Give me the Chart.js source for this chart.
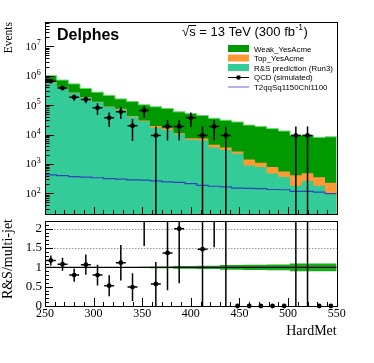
<!DOCTYPE html>
<html><head><meta charset="utf-8">
<script src="https://cdn.jsdelivr.net/npm/chart.js@4/dist/chart.umd.min.js"></script>
<style>
html,body{margin:0;padding:0;background:#fff;}
#wrap{position:relative;width:374px;height:363px;overflow:hidden;background:#fff;}
canvas{position:absolute;left:0;}
#topc{top:0;}
#botc{top:217px;}
</style></head><body>
<div id="wrap"><canvas id="topc" width="374" height="218"></canvas><canvas id="botc" width="374" height="146"></canvas></div>
<script>
// ---- data ----
const binLow = [250,262,274,286,298,310,322,334,346,358,370,382,394,406,418,430,442,454,466,478,490,502,514,526,538];
const binHigh = 550;
const rsPred = [5.9e5,4.1e5,2.6e5,1.8e5,1.26e5,8.7e4,7.1e4,4.0e4,2.8e4,1.7e4,1.45e4,1.02e4,6.6e3,6.3e3,3.6e3,3.0e3,2.2e3,890,790,470,360,180,260,180,100];
const topYesAcme = [1.5e4,1.0e4,7e3,5e3,4e3,3e3,3.5e3,2.5e3,2e3,2.5e3,1.7e3,800,900,1000,900,630,430,510,310,310,190,230,220,170,130];
const weakYesAcme = [3.95e5,2.9e5,2.6e5,1.85e5,1.45e5,1.24e5,8.8e4,8.9e4,7.2e4,6.8e4,6.0e4,4.8e4,4.4e4,3.7e4,3.1e4,2.7e4,2.4e4,1.95e4,1.75e4,1.5e4,1.26e4,9.1e3,9.0e3,7.6e3,8.1e3];
const signalT2qq = [427,398,372,355,339,316,302,288,282,263,245,234,214,186,174,166,151,148,145,135,132,117,117,110,98];
const qcdSim = [6.5e5,3.8e5,1.86e5,1.55e5,8.1e4,3.7e4,5.9e4,2.0e4,6.6e4,9.3e3,1.87e4,1.87e4,3.7e4,9.3e3,1.87e4,9.3e3,0,0,0,0,0,9.3e3,9.3e3,0,0];
const qcdErr = [6e4,6e4,4.5e4,4e4,3.5e4,1.9e4,2.5e4,1.4e4,2.9e4,9.3e3,1.25e4,1.25e4,1.9e4,9.3e3,1.25e4,9.3e3,0,0,0,0,0,9.3e3,9.3e3,0,0];
const ratioVal = [1.18,1.08,0.80,1.07,0.80,0.525,1.12,0.49,2.3,0.57,1.375,2.0,5.6,1.47,3.0,2.6,0,0,0,0,0,3.0,2.8,0,0];
const ratioErr = [0.13,0.17,0.17,0.26,0.27,0.27,0.46,0.36,0.75,0.57,0.97,1.41,3.0,1.47,1.48,2.6,0,0,0,0,0,3.0,2.8,0,0];
const ratioBand = [0.004,0.004,0.004,0.004,0.004,0.004,0.004,0.004,0.015,0.02,0.02,0.035,0.035,0.04,0.04,0.06,0.06,0.065,0.065,0.075,0.075,0.1,0.1,0.1,0.1];
const xTickVals = [250,300,350,400,450,500,550];
const logTickExps = [2,3,4,5,6,7];
const ratioTickVals = [0,0.5,1,1.5,2];
const legendLabels = ['Weak_YesAcme','Top_YesAcme','R&S prediction (Run3)','QCD (simulated)','T2qqSq1150Chi1100'];

// ---- helpers ----
const SERIF = 'Liberation Serif';
const SANS = 'Liberation Sans';
function hist(vals){
  const pts = binLow.map((x,i)=>({x:x, y:vals[i]}));
  pts.push({x:binHigh, y:vals[vals.length-1]});
  return pts;
}
function binCenter(i){ const hi = i+1<binLow.length ? binLow[i+1] : binHigh; return (binLow[i]+hi)/2; }
function binHalf(i){ const hi = i+1<binLow.length ? binLow[i+1] : binHigh; return (hi-binLow[i])/2; }
const cumTop = rsPred.map((v,i)=>v+topYesAcme[i]);
const cumWeak = cumTop.map((v,i)=>v+weakYesAcme[i]);

const COL = {weak:'#009900', weakEdge:'#66d966', top:'#ff9933', rs:'#33cc99', sig:'#3344bb'};

function drawXTicks(ctx, xs, area, majLen, minLen){
  ctx.save(); ctx.strokeStyle='#000'; ctx.lineWidth=1;
  for(let v=250; v<=550; v+=10){
    const px = Math.round(xs.getPixelForValue(v))+0.5;
    const len = (xTickVals.indexOf(v)>=0)?majLen:minLen;
    ctx.beginPath(); ctx.moveTo(px, area.bottom); ctx.lineTo(px, area.bottom-len); ctx.stroke();
  }
  ctx.restore();
}
function drawFrame(ctx, area){
  ctx.save(); ctx.strokeStyle='#000'; ctx.lineWidth=1;
  ctx.strokeRect(Math.round(area.left)+0.5, Math.round(area.top)+0.5, Math.round(area.right-area.left), Math.round(area.bottom-area.top));
  ctx.restore();
}
function errorBars(chart, vals, errs, clipBottomVal){
  const ctx = chart.ctx, xs = chart.scales.x, ys = chart.scales.y, a = chart.chartArea;
  ctx.save();
  ctx.beginPath(); ctx.rect(a.left, a.top, a.right-a.left, a.bottom-a.top); ctx.clip();
  ctx.strokeStyle='#000'; ctx.lineWidth=1.5;
  vals.forEach((v,i)=>{
    if(errs[i]<=0) return;
    const cx = xs.getPixelForValue(binCenter(i));
    const lo = v-errs[i];
    const yLo = lo>clipBottomVal ? ys.getPixelForValue(lo) : a.bottom+2;
    const yHi = ys.getPixelForValue(v+errs[i]);
    ctx.beginPath(); ctx.moveTo(cx, yLo); ctx.lineTo(cx, yHi); ctx.stroke();
    const yv = ys.getPixelForValue(v);
    const hw = binHalf(i)*0.85;
    ctx.beginPath(); ctx.moveTo(xs.getPixelForValue(binCenter(i)-hw), yv); ctx.lineTo(xs.getPixelForValue(binCenter(i)+hw), yv); ctx.stroke();
  });
  ctx.restore();
}

// ---- top chart ----
const topPlugin = {
  id:'topDeco',
  afterDatasetsDraw(chart){
    errorBars(chart, qcdSim, qcdErr, 0);
  },
  afterDraw(chart){
    const ctx = chart.ctx, a = chart.chartArea, xs = chart.scales.x, ys = chart.scales.y;
    drawFrame(ctx, a);
    drawXTicks(ctx, xs, a, 7, 4);
    ctx.save(); ctx.strokeStyle='#000'; ctx.lineWidth=1;
    for(let e=1; e<=7; e++){
      for(let k=1; k<=9; k++){
        const v = k*Math.pow(10,e);
        if(v<ys.min || v>ys.max) continue;
        const py = Math.round(ys.getPixelForValue(v))+0.5;
        const len = k===1?9:4.5;
        ctx.beginPath(); ctx.moveTo(a.left, py); ctx.lineTo(a.left+len, py); ctx.stroke();
      }
    }
    ctx.restore();
    ctx.save(); ctx.fillStyle='#000';
    logTickExps.forEach(e=>{
      const py = ys.getPixelForValue(Math.pow(10,e));
      ctx.font = '11px "'+SERIF+'"'; ctx.textAlign='right'; ctx.textBaseline='alphabetic';
      ctx.fillText('10', a.left-8.5, py+3.5);
      ctx.font = '8px "'+SERIF+'"'; ctx.textAlign='left';
      ctx.fillText(String(e), a.left-8.2, py-0.8);
    });
    ctx.restore();
    ctx.save(); ctx.fillStyle='#000'; ctx.strokeStyle='#000'; ctx.textBaseline='alphabetic';
    ctx.font = 'bold 16px "'+SANS+'"'; ctx.textAlign='left';
    ctx.fillText('Delphes', 57, 39.5);
    const big = '13px "'+SANS+'"';
    ctx.font = big;
    let x = 182;
    ctx.fillText('\u221A', x, 36); x += ctx.measureText('\u221A').width;
    const sx = x; ctx.fillText('s', x, 36); x += ctx.measureText('s').width;
    ctx.lineWidth=1; ctx.beginPath(); ctx.moveTo(sx-0.5, 25.5); ctx.lineTo(x+0.5, 25.5); ctx.stroke();
    const t1 = ' = 13 TeV (300 fb';
    ctx.fillText(t1, x, 36); x += ctx.measureText(t1).width;
    ctx.font = '8.5px "'+SANS+'"'; ctx.fillText('-1', x+0.5, 30); x += ctx.measureText('-1').width+1;
    ctx.font = big; ctx.fillText(')', x, 36);
    ctx.save(); ctx.font = '11.5px "'+SERIF+'"'; ctx.translate(11.7, a.top); ctx.rotate(-Math.PI/2);
    ctx.textAlign='right'; ctx.fillText('Events', 0, 0); ctx.restore();
    const rows = [48.5,58,67.5,77,86.5];
    const bx = 228, bw = 21;
    ctx.font = '7.9px "'+SANS+'"'; ctx.textAlign='left';
    const boxCols = [COL.weak, COL.top, COL.rs];
    rows.forEach((ry,i)=>{
      if(i<3){ ctx.fillStyle=boxCols[i]; ctx.fillRect(bx, ry-3.5, bw, 7); }
      else if(i===3){ ctx.strokeStyle='#000'; ctx.lineWidth=1; ctx.beginPath(); ctx.moveTo(bx, ry+0.5); ctx.lineTo(bx+bw, ry+0.5); ctx.stroke();
        ctx.fillStyle='#000'; ctx.beginPath(); ctx.arc(bx+bw/2, ry+0.5, 2.3, 0, Math.PI*2); ctx.fill(); }
      else { ctx.strokeStyle='#6666dd'; ctx.lineWidth=1; ctx.beginPath(); ctx.moveTo(bx, ry+0.5); ctx.lineTo(bx+bw, ry+0.5); ctx.stroke(); }
      ctx.fillStyle='#000'; ctx.fillText(legendLabels[i], 254, ry+3);
    });
    ctx.restore();
  }
};

new Chart(document.getElementById('topc'), {
  type:'line',
  data:{datasets:[
    {label:legendLabels[0], data:hist(cumWeak), stepped:'before', fill:'start', backgroundColor:COL.weak, borderColor:COL.weakEdge, borderWidth:1, pointRadius:0, order:5},
    {label:legendLabels[1], data:hist(cumTop), stepped:'before', fill:'start', backgroundColor:COL.top, borderColor:'rgba(0,0,0,0)', borderWidth:0.01, pointRadius:0, order:4},
    {label:legendLabels[2], data:hist(rsPred), stepped:'before', fill:'start', backgroundColor:COL.rs, borderColor:'rgba(0,0,0,0)', borderWidth:0.01, pointRadius:0, order:3},
    {label:legendLabels[4], data:hist(signalT2qq), stepped:'before', fill:false, borderColor:COL.sig, borderWidth:1.2, pointRadius:0, order:2},
    {label:legendLabels[3], data:qcdSim.map((v,i)=>({x:binCenter(i), y: v>0?v:null})), showLine:false, pointRadius:2.4, pointBackgroundColor:'#000', pointBorderColor:'#000', pointBorderWidth:0, order:1}
  ]},
  options:{
    animation:false, responsive:false, devicePixelRatio:1,
    layout:{padding:{left:0,right:37.3,top:22,bottom:1}},
    plugins:{legend:{display:false}, tooltip:{enabled:false}},
    scales:{
      x:{type:'linear', min:250, max:550, display:false},
      y:{type:'logarithmic', min:19.8, max:6.7e7, ticks:{display:false}, grid:{display:false, drawTicks:false}, border:{display:false},
         afterFit(s){ s.width=45; s.paddingTop=0; s.paddingBottom=0; }}
    }
  },
  plugins:[topPlugin]
});

// ---- ratio chart ----
const botPlugin = {
  id:'botDeco',
  beforeDatasetsDraw(chart){
    const ctx = chart.ctx, a = chart.chartArea, ys = chart.scales.y;
    ctx.save(); ctx.strokeStyle='#999'; ctx.lineWidth=1; ctx.setLineDash([1.5,1.5]);
    [1.5,2].forEach(v=>{ const py = Math.round(ys.getPixelForValue(v))+0.5; ctx.beginPath(); ctx.moveTo(a.left, py); ctx.lineTo(a.right, py); ctx.stroke(); });
    ctx.restore();
  },
  afterDatasetsDraw(chart){
    errorBars(chart, ratioVal, ratioErr, 0);
  },
  afterDraw(chart){
    const ctx = chart.ctx, a = chart.chartArea, xs = chart.scales.x, ys = chart.scales.y;
    drawFrame(ctx, a);
    drawXTicks(ctx, xs, a, 8, 4);
    ctx.save(); ctx.strokeStyle='#000'; ctx.lineWidth=1;
    for(let k=0;k<=22;k++){
      const v = k/10; const py = Math.round(ys.getPixelForValue(v))+0.5;
      const len = (k%5===0)?8:4;
      ctx.beginPath(); ctx.moveTo(a.left, py); ctx.lineTo(a.left+len, py); ctx.stroke();
    }
    ctx.restore();
    ctx.save(); ctx.fillStyle='#000';
    ctx.font = '14px "'+SERIF+'"'; ctx.textAlign='right'; ctx.textBaseline='alphabetic';
    ctx.fillText('HardMet', a.right, a.bottom+29);
    ctx.translate(11.7, a.top-2); ctx.rotate(-Math.PI/2);
    ctx.fillText('R&S/multi-jet', 0, 0);
    ctx.restore();
  }
};

new Chart(document.getElementById('botc'), {
  type:'line',
  data:{datasets:[
    {label:'band+', data:hist(ratioBand.map(b=>1+b)), stepped:'before', fill:'+1', backgroundColor:'rgba(0,160,0,0.9)', borderColor:'rgba(0,0,0,0)', borderWidth:0.01, pointRadius:0, order:4},
    {label:'band-', data:hist(ratioBand.map(b=>1-b)), stepped:'before', fill:false, borderColor:'rgba(0,0,0,0)', borderWidth:0.01, pointRadius:0, order:3},
    {label:'unity', data:[{x:250,y:1},{x:550,y:1}], fill:false, borderColor:'#000', borderWidth:1.3, pointRadius:0, order:2},
    {label:'ratio', data:ratioVal.map((v,i)=>({x:binCenter(i), y:v})), showLine:false, pointRadius:2.4, pointBackgroundColor:'#000', pointBorderColor:'#000', pointBorderWidth:0, clip:{left:0,top:0,right:0,bottom:4}, order:1}
  ]},
  options:{
    animation:false, responsive:false, devicePixelRatio:1,
    layout:{padding:{left:0,right:37.3,top:1,bottom:0}},
    plugins:{legend:{display:false}, tooltip:{enabled:false}},
    scales:{
      x:{type:'linear', min:250, max:550, position:'bottom',
         afterBuildTicks(s){ s.ticks = xTickVals.map(v=>({value:v})); },
         ticks:{autoSkip:false, maxRotation:0, color:'#000', padding:1, font:{family:SERIF, size:12}},
         grid:{display:false, drawTicks:false}, border:{display:false},
         afterFit(s){ s.height=57; s.paddingLeft=0; s.paddingRight=0; }},
      y:{type:'linear', min:0, max:2.2,
         afterBuildTicks(s){ s.ticks = ratioTickVals.map(v=>({value:v})); },
         ticks:{color:'#000', padding:3, font:{family:SERIF, size:13}, callback:(v)=>String(v)},
         grid:{display:false, drawTicks:false}, border:{display:false},
         afterFit(s){ s.width=45; s.paddingTop=0; s.paddingBottom=0; }}
    }
  },
  plugins:[botPlugin]
});
</script>
</body></html>
